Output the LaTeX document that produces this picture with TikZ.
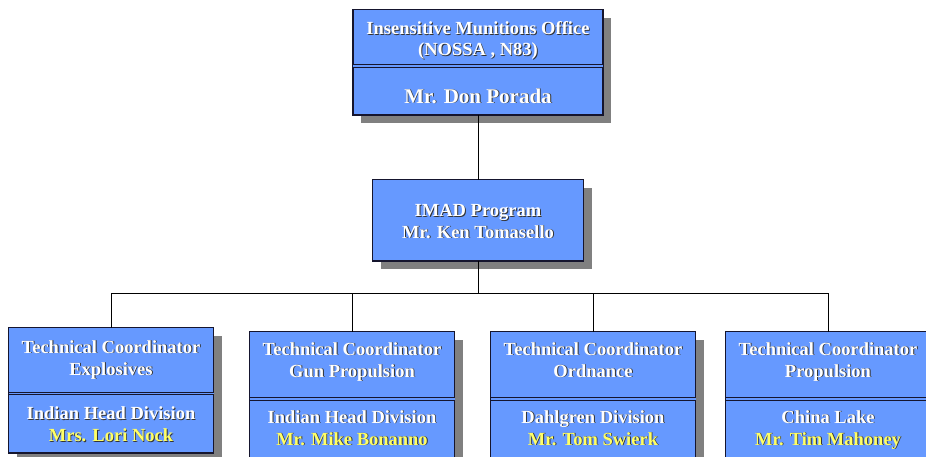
\documentclass[tikz,border=0pt]{standalone}
\usepackage{fontspec}
\setmainfont{Liberation Serif}
\usetikzlibrary{shadows,positioning}
\definecolor{boxBlue}{HTML}{6699FF}
\definecolor{boxLine}{HTML}{15152E}
\definecolor{boxShadow}{HTML}{808080}
\definecolor{nameYellow}{HTML}{FFFF66}
\newcommand{\embossed}[2][white]{\makebox[0pt][l]{\hspace{0.9pt}\raisebox{-0.9pt}{\textcolor{black!80}{#2}}}\textcolor{#1}{#2}}
\newcommand{\person}[1]{\embossed[nameYellow]{#1}}
\tikzset{
  orgbox/.style={draw=boxLine, fill=boxBlue, line width=1.6pt, inner sep=0pt, outer sep=0pt,
    align=center, anchor=north,
    font=\fontsize{18.5}{22}\selectfont\bfseries,
    drop shadow={shadow xshift=8pt, shadow yshift=-8pt, fill=boxShadow, opacity=1}},
  wide/.style={minimum width=250pt},
  coord/.style={minimum width=205pt},
  divider/.style={draw=boxLine, line width=1pt, double=boxBlue, double distance=1.7pt},
  link/.style={draw=black, line width=1pt},
}

\begin{document}
\begin{tikzpicture}[x=1pt, y=-1pt]
\clip (0,0) rectangle (926,456);
\node[orgbox, wide, text height=46pt, text depth=10.5pt,
  font=\fontsize{18.5}{21.3}\selectfont\bfseries] (imo) at (478,9.5)
  {\embossed{Insensitive Munitions Office}\\\embossed{(NOSSA , N83)}};
\node[orgbox, wide, text height=38pt, text depth=12pt,
  font=\fontsize{21}{24}\selectfont\bfseries] (imo-head) at ([yshift=1pt]imo.south)
  {\embossed{Mr. Don Porada}};
\draw[divider] (imo.south west) -- (imo.south east);

\node[orgbox, minimum width=211pt, text height=58.5pt, text depth=22.7pt,
  font=\fontsize{18.5}{21.3}\selectfont\bfseries] (imad) at (478,179.5)
  {\embossed{IMAD Program}\\\embossed{Mr. Ken Tomasello}};

\node[orgbox, coord, text height=47.5pt, text depth=18.5pt] (tc-exp) at (111,327.5)
  {\embossed{Technical Coordinator}\\\embossed{Explosives}};
\node[orgbox, coord, text height=49.2pt, text depth=11pt] (tc-exp-lead) at ([yshift=1pt]tc-exp.south)
  {\embossed{Indian Head Division}\\\person{Mrs. Lori Nock}};
\draw[divider] (tc-exp.south west) -- (tc-exp.south east);

\node[orgbox, coord, text height=45.5pt, text depth=22pt] (tc-gun) at (352,331.5)
  {\embossed{Technical Coordinator}\\\embossed{Gun Propulsion}};
\node[orgbox, coord, text height=47pt, text depth=15pt] (tc-gun-lead) at ([yshift=1pt]tc-gun.south)
  {\embossed{Indian Head Division}\\\person{Mr. Mike Bonanno}};
\draw[divider] (tc-gun.south west) -- (tc-gun.south east);

\node[orgbox, coord, text height=45.5pt, text depth=22pt] (tc-ord) at (593,331.5)
  {\embossed{Technical Coordinator}\\\embossed{Ordnance}};
\node[orgbox, coord, text height=47pt, text depth=15pt] (tc-ord-lead) at ([yshift=1pt]tc-ord.south)
  {\embossed{Dahlgren Division}\\\person{Mr. Tom Swierk}};
\draw[divider] (tc-ord.south west) -- (tc-ord.south east);

\node[orgbox, coord, text height=45.5pt, text depth=22pt] (tc-prop) at (828,331.5)
  {\embossed{Technical Coordinator}\\\embossed{Propulsion}};
\node[orgbox, coord, text height=47pt, text depth=15pt] (tc-prop-lead) at ([yshift=1pt]tc-prop.south)
  {\embossed{China Lake}\\\person{Mr. Tim Mahoney}};
\draw[divider] (tc-prop.south west) -- (tc-prop.south east);

\coordinate (bus) at (478,293.3);
\draw[link] (imo-head.south) -- (imad.north);
\draw[link] (imad.south) -- (bus);
\foreach \n in {tc-exp,tc-gun,tc-ord,tc-prop}
  \draw[link] (bus) -| (\n.north);
\end{tikzpicture}
\end{document}
